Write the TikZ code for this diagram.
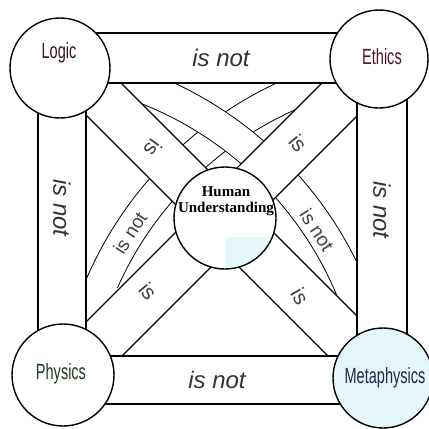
\documentclass[tikz,border=0pt]{standalone}
\usepackage{fontspec}
\setmainfont{Liberation Serif}
\newfontfamily\narrowsans[FakeStretch=0.66]{Liberation Sans}
\newfontfamily\plainsans{Liberation Sans}
\usetikzlibrary{positioning}
\definecolor{logiccol}{HTML}{3A1518}
\definecolor{ethicscol}{HTML}{5A1025}
\definecolor{physicscol}{HTML}{1E3A26}
\definecolor{metacol}{HTML}{1B2A4A}
\definecolor{metafill}{HTML}{E4F8FC}

\begin{document}
\begin{tikzpicture}[x=1pt,y=-1pt,
  edge/.style={line width=1.4pt},
  thinedge/.style={line width=0.8pt},
  notlabel/.style={font=\plainsans\itshape\fontsize{24}{24}\selectfont,text=black!80},
  islabel/.style={font=\plainsans\fontsize{21}{21}\selectfont,text=black!75,inner sep=0pt},
  arclabel/.style={font=\plainsans\fontsize{19}{19}\selectfont,text=black!75,inner sep=0pt},
  corner/.style={font=\narrowsans\fontsize{22}{22}\selectfont},
  hutext/.style={font=\bfseries\fontsize{15}{15}\selectfont,inner sep=0pt}]
  \useasboundingbox (0,0) rectangle (429,429);

  % 中心
  \coordinate (lc) at (60,68);
  \coordinate (ec) at (379,59);
  \coordinate (pc) at (63,375);
  \coordinate (mc) at (383,378);
  \coordinate (hc) at (225,218);
  \coordinate (ac) at (12,431);
  \coordinate (bc) at (439,431);

  % 曲がった帯 (Physics--Ethics)
  \draw[thinedge] (bc) ++(201:384) arc[start angle=201,end angle=247,radius=384];
  \draw[thinedge] (bc) ++(204:352) arc[start angle=204,end angle=247,radius=352];

  % 曲がった帯 (Logic--Metaphysics)
  \fill[white] (ac) ++(290:352) arc[start angle=290,end angle=339,radius=352]
    -- ++(339:32) arc[start angle=339,end angle=290,radius=384] -- cycle;
  \draw[thinedge] (ac) ++(294:384) arc[start angle=294,end angle=335,radius=384];
  \draw[thinedge] (ac) ++(290:352) arc[start angle=290,end angle=339,radius=352];

  % is の帯
  \fill[white] (86,83) -- (121,83) -- (215,177) -- (180,209) -- (86,115) -- cycle;
  \draw[edge] (121,83) -- (215,177) (86,115) -- (180,209);
  \fill[white] (357,83) -- (322,83) -- (232,173) -- (265,208) -- (357,116) -- cycle;
  \draw[edge] (322,83) -- (232,173) (357,116) -- (265,208);
  \fill[white] (86,356) -- (86,322) -- (185,223) -- (240,238) -- (122,356) -- cycle;
  \draw[edge] (86,322) -- (185,223) (122,356) -- (240,238);
  \fill[white] (357,356) -- (357,316) -- (245,204) -- (210,238) -- (328,356) -- cycle;
  \draw[edge] (357,316) -- (245,204) (328,356) -- (210,238);

  % is not の帯
  \fill[white] (60,33) rectangle (379,83);
  \draw[edge] (60,33) -- (379,33) (60,83) -- (379,83);
  \fill[white] (63,356) rectangle (383,404);
  \draw[edge] (63,356) -- (383,356) (63,404) -- (383,404);
  \fill[white] (38,68) rectangle (86,375);
  \draw[edge] (38,68) -- (38,375) (86,68) -- (86,375);
  \fill[white] (357,59) rectangle (407,378);
  \draw[edge] (357,59) -- (357,378) (407,59) -- (407,378);

  % 円
  \filldraw[edge,fill=white] (lc) circle[radius=50];
  \filldraw[edge,fill=white] (ec) circle[radius=49];
  \filldraw[edge,fill=white] (pc) circle[radius=51];
  \filldraw[edge,fill=metafill] (mc) circle[radius=50];
  \fill[white] (hc) circle[radius=51];
  \begin{scope}
    \clip (hc) circle[radius=51];
    \fill[metafill] (225,237) rectangle (268,270);
  \end{scope}
  \draw[edge] (hc) circle[radius=51];

  % ラベル
  \node[corner,text=logiccol] (logic) at (59,53) {Logic};
  \node[corner,text=ethicscol] (ethics) at (382,57) {Ethics};
  \node[corner,text=physicscol] (physics) at (61,374) {Physics};
  \node[corner,text=metacol] (meta) at (385,378) {Metaphysics};
  \node[hutext] (human) at (226,192) {Human};
  \node[hutext,below=5pt of human] (underst) {Understanding};

  \node[notlabel] (topnot) at (221,58) {is not};
  \node[notlabel] (botnot) at (217,380) {is not};
  \node[notlabel,rotate=-90] (leftnot) at (62,208) {is not};
  \node[notlabel,rotate=-90] (rightnot) at (382,210) {is not};
  \node[arclabel,rotate=57] (arcleft) at (130,233) {is not};
  \node[arclabel,rotate=-57] (arcright) at (317,230) {is not};

  \node[islabel,rotate=-125] (islogic) at (153,148) {is};
  \node[islabel,rotate=-50] (isethics) at (298,143) {is};
  \node[islabel,rotate=-50] (isphysics) at (148,291) {is};
  \node[islabel,rotate=-60] (ismeta) at (300,296) {is};
\end{tikzpicture}
\end{document}
